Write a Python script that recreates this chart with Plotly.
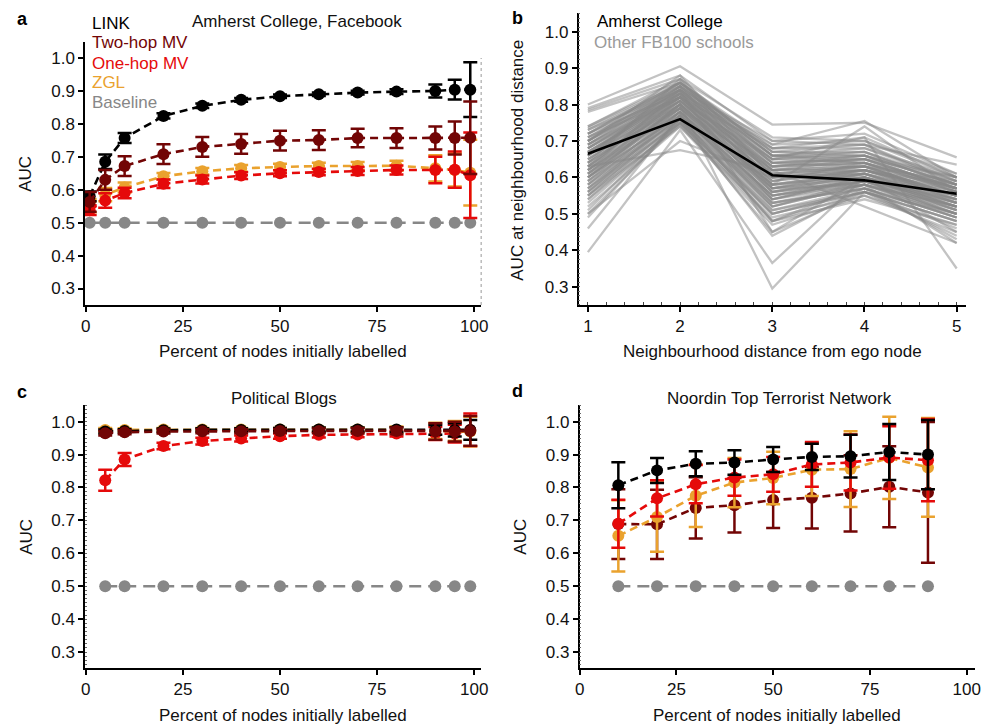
import plotly.graph_objects as go

W, H = 989, 726

# ---------------- data ----------------
# Panel a: Amherst College, Facebook
X_A = [1, 5, 10, 20, 30, 40, 50, 60, 70, 80, 90, 95, 99]
LINK_A = [0.580, 0.685, 0.757, 0.824, 0.855, 0.873, 0.884, 0.890, 0.895, 0.898, 0.900, 0.904, 0.904]
LINK_A_ERR = [0.015, 0.022, 0.015, 0.008, 0.007, 0.006, 0.005, 0.005, 0.006, 0.007, 0.020, 0.030, 0.083]
TWO_A = [0.563, 0.630, 0.672, 0.708, 0.730, 0.739, 0.749, 0.751, 0.757, 0.757, 0.757, 0.757, 0.758]
TWO_A_ERR = [0.030, 0.030, 0.030, 0.030, 0.030, 0.030, 0.030, 0.030, 0.028, 0.030, 0.035, 0.050, 0.110]
ONE_A = [0.538, 0.567, 0.590, 0.618, 0.631, 0.643, 0.650, 0.654, 0.657, 0.660, 0.660, 0.661, 0.644]
ONE_A_ERR = [0.015, 0.022, 0.016, 0.013, 0.012, 0.010, 0.009, 0.010, 0.012, 0.014, 0.040, 0.055, 0.130]
ZGL_A = [0.552, 0.585, 0.607, 0.641, 0.656, 0.665, 0.669, 0.672, 0.672, 0.673, 0.665, 0.660, 0.652]
ZGL_A_ERR = [0.020, 0.020, 0.015, 0.010, 0.010, 0.010, 0.010, 0.010, 0.012, 0.015, 0.040, 0.050, 0.100]
BASE_A = [0.5] * 13

# Panel b: AUC at neighbourhood distance
DIST_B = [1, 2, 3, 4, 5]
AMHERST_B = [0.665, 0.760, 0.606, 0.592, 0.555]
OTHER_B = [
    [0.80, 0.905, 0.745, 0.75, 0.655], [0.79, 0.88, 0.70, 0.69, 0.635],
    [0.785, 0.87, 0.71, 0.70, 0.61], [0.78, 0.86, 0.69, 0.755, 0.60],
    [0.74, 0.86, 0.68, 0.71, 0.60], [0.735, 0.855, 0.67, 0.69, 0.59],
    [0.73, 0.85, 0.66, 0.68, 0.60], [0.72, 0.85, 0.66, 0.66, 0.58],
    [0.71, 0.845, 0.65, 0.67, 0.59], [0.70, 0.84, 0.64, 0.65, 0.57],
    [0.70, 0.835, 0.63, 0.66, 0.58], [0.69, 0.83, 0.65, 0.64, 0.56],
    [0.68, 0.83, 0.62, 0.64, 0.57], [0.68, 0.825, 0.61, 0.63, 0.55],
    [0.67, 0.82, 0.60, 0.62, 0.56], [0.66, 0.82, 0.62, 0.63, 0.55],
    [0.66, 0.81, 0.59, 0.62, 0.54], [0.65, 0.81, 0.60, 0.61, 0.55],
    [0.64, 0.80, 0.58, 0.61, 0.53], [0.64, 0.80, 0.57, 0.60, 0.54],
    [0.63, 0.79, 0.58, 0.60, 0.52], [0.62, 0.79, 0.56, 0.59, 0.53],
    [0.62, 0.78, 0.55, 0.60, 0.51], [0.61, 0.78, 0.57, 0.58, 0.52],
    [0.60, 0.77, 0.54, 0.59, 0.50], [0.60, 0.77, 0.55, 0.58, 0.51],
    [0.59, 0.76, 0.53, 0.57, 0.49], [0.58, 0.76, 0.52, 0.58, 0.50],
    [0.57, 0.75, 0.51, 0.56, 0.48], [0.56, 0.75, 0.50, 0.57, 0.49],
    [0.55, 0.74, 0.49, 0.55, 0.47], [0.54, 0.745, 0.48, 0.56, 0.46],
    [0.52, 0.74, 0.47, 0.55, 0.45], [0.50, 0.75, 0.45, 0.56, 0.44],
    [0.49, 0.76, 0.44, 0.57, 0.43], [0.46, 0.77, 0.48, 0.58, 0.42],
    [0.395, 0.73, 0.365, 0.60, 0.45], [0.60, 0.80, 0.295, 0.56, 0.50],
    [0.63, 0.675, 0.62, 0.52, 0.42], [0.50, 0.70, 0.60, 0.62, 0.55],
    [0.73, 0.84, 0.70, 0.72, 0.61], [0.72, 0.83, 0.69, 0.70, 0.60],
    [0.71, 0.82, 0.68, 0.69, 0.58], [0.70, 0.86, 0.67, 0.67, 0.57],
    [0.69, 0.85, 0.66, 0.67, 0.58], [0.68, 0.84, 0.64, 0.66, 0.56],
    [0.67, 0.83, 0.63, 0.65, 0.57], [0.66, 0.80, 0.63, 0.64, 0.56],
    [0.65, 0.79, 0.62, 0.63, 0.55], [0.63, 0.82, 0.61, 0.62, 0.56],
    [0.62, 0.81, 0.60, 0.61, 0.54], [0.61, 0.80, 0.59, 0.64, 0.53],
    [0.60, 0.79, 0.58, 0.62, 0.55], [0.59, 0.80, 0.56, 0.61, 0.52],
    [0.58, 0.78, 0.55, 0.59, 0.51], [0.57, 0.77, 0.53, 0.58, 0.52],
    [0.56, 0.78, 0.52, 0.59, 0.50], [0.55, 0.76, 0.51, 0.57, 0.49],
    [0.53, 0.75, 0.50, 0.56, 0.48], [0.51, 0.76, 0.48, 0.54, 0.47],
    [0.67, 0.81, 0.65, 0.71, 0.35], [0.64, 0.87, 0.58, 0.74, 0.56],
    [0.70, 0.88, 0.60, 0.60, 0.55], [0.62, 0.84, 0.45, 0.60, 0.52],
    [0.66, 0.85, 0.57, 0.62, 0.58], [0.74, 0.87, 0.66, 0.65, 0.60],
    [0.72, 0.86, 0.64, 0.63, 0.59], [0.69, 0.84, 0.62, 0.62, 0.57],
    [0.63, 0.83, 0.56, 0.59, 0.54], [0.61, 0.82, 0.54, 0.60, 0.53],
    [0.71, 0.84, 0.66, 0.64, 0.58], [0.69, 0.82, 0.64, 0.65, 0.57],
    [0.67, 0.82, 0.62, 0.65, 0.56], [0.66, 0.83, 0.61, 0.63, 0.57],
    [0.65, 0.82, 0.59, 0.62, 0.55], [0.64, 0.81, 0.60, 0.63, 0.54],
    [0.63, 0.81, 0.58, 0.61, 0.55], [0.62, 0.80, 0.57, 0.61, 0.53],
    [0.60, 0.80, 0.57, 0.60, 0.52], [0.59, 0.78, 0.55, 0.59, 0.52],
    [0.58, 0.79, 0.54, 0.60, 0.51], [0.57, 0.78, 0.53, 0.57, 0.50],
    [0.55, 0.77, 0.52, 0.58, 0.49], [0.54, 0.76, 0.50, 0.56, 0.48],
    [0.70, 0.85, 0.68, 0.68, 0.59], [0.72, 0.86, 0.67, 0.66, 0.60],
    [0.68, 0.82, 0.63, 0.64, 0.57], [0.61, 0.79, 0.56, 0.60, 0.53],
    [0.56, 0.77, 0.54, 0.58, 0.50], [0.66, 0.84, 0.65, 0.66, 0.58],
]

# Panel c: Political Blogs
X_C = [5, 10, 20, 30, 40, 50, 60, 70, 80, 90, 95, 99]
LINK_C = [0.970, 0.972, 0.974, 0.975, 0.975, 0.976, 0.976, 0.976, 0.976, 0.975, 0.975, 0.975]
LINK_C_ERR = [0.006, 0.005, 0.005, 0.005, 0.005, 0.005, 0.006, 0.006, 0.007, 0.015, 0.020, 0.030]
TWO_C = [0.965, 0.968, 0.970, 0.971, 0.971, 0.972, 0.972, 0.972, 0.972, 0.970, 0.970, 0.972]
TWO_C_ERR = [0.007, 0.006, 0.006, 0.006, 0.006, 0.006, 0.007, 0.008, 0.010, 0.025, 0.030, 0.045]
ONE_C = [0.822, 0.885, 0.926, 0.941, 0.949, 0.956, 0.960, 0.961, 0.964, 0.964, 0.964, 0.975]
ONE_C_ERR = [0.032, 0.020, 0.010, 0.010, 0.009, 0.008, 0.008, 0.008, 0.009, 0.020, 0.027, 0.050]
ZGL_C = [0.975, 0.975, 0.976, 0.976, 0.976, 0.976, 0.976, 0.976, 0.975, 0.972, 0.972, 0.970]
ZGL_C_ERR = [0.006, 0.005, 0.005, 0.005, 0.005, 0.005, 0.006, 0.007, 0.010, 0.025, 0.030, 0.045]
BASE_C = [0.5] * 12

# Panel d: Noordin Top Terrorist Network
X_D = [10, 20, 30, 40, 50, 60, 70, 80, 90]
LINK_D = [0.807, 0.852, 0.872, 0.876, 0.885, 0.893, 0.895, 0.908, 0.900]
LINK_D_ERR = [0.070, 0.038, 0.038, 0.037, 0.038, 0.040, 0.065, 0.085, 0.105]
ONE_D = [0.690, 0.767, 0.810, 0.830, 0.840, 0.870, 0.876, 0.891, 0.883]
ONE_D_ERR = [0.073, 0.055, 0.058, 0.055, 0.053, 0.068, 0.085, 0.095, 0.125]
ZGL_D = [0.653, 0.710, 0.775, 0.815, 0.829, 0.854, 0.856, 0.890, 0.861]
ZGL_D_ERR = [0.108, 0.105, 0.095, 0.075, 0.080, 0.080, 0.115, 0.125, 0.150]
TWO_D = [0.689, 0.688, 0.738, 0.746, 0.762, 0.769, 0.782, 0.802, 0.785]
TWO_D_ERR = [0.106, 0.105, 0.093, 0.083, 0.085, 0.094, 0.116, 0.123, 0.214]
BASE_D = [0.5] * 9

Y_TICKS = [0.3, 0.4, 0.5, 0.6, 0.7, 0.8, 0.9, 1.0]
X_TICKS = [0, 25, 50, 75, 100]
B_TICKS = [1, 2, 3, 4, 5]

# ---------------- style ----------------
FONT = "Liberation Sans, Arial, sans-serif"
C_LINK = "#000000"
C_TWO = "#720505"
C_ONE = "#e50a0a"
C_ZGL = "#eaa22e"
C_BASE = "#878787"


def px_x(p):
    return p / W


def px_y(p):
    return 1 - p / H


fig = go.Figure()


def series(x, y, err, color, xa, ya, dash="8px,5px"):
    fig.add_trace(go.Scatter(
        x=x, y=y, xaxis=xa, yaxis=ya, mode="lines+markers",
        line=dict(color=color, width=2.6, dash=dash),
        marker=dict(color=color, size=12, line=dict(width=0)),
        error_y=dict(type="data", array=err, visible=True,
                     color=color, thickness=2.5, width=7) if err is not None else None,
        showlegend=False, hoverinfo="skip"))


# Panel a
series(X_A, BASE_A, None, C_BASE, "x", "y", "12px,7px")
series(X_A, ZGL_A, ZGL_A_ERR, C_ZGL, "x", "y")
series(X_A, ONE_A, ONE_A_ERR, C_ONE, "x", "y")
series(X_A, LINK_A, LINK_A_ERR, C_LINK, "x", "y")
series(X_A, TWO_A, TWO_A_ERR, C_TWO, "x", "y")

# Panel b
for row in OTHER_B:
    fig.add_trace(go.Scatter(x=DIST_B, y=row, xaxis="x2", yaxis="y2", mode="lines",
                             line=dict(color="rgba(135,135,135,0.5)", width=2.3),
                             showlegend=False, hoverinfo="skip"))
fig.add_trace(go.Scatter(x=DIST_B, y=AMHERST_B, xaxis="x2", yaxis="y2", mode="lines",
                         line=dict(color="black", width=2.6), showlegend=False,
                         hoverinfo="skip"))

# Panel c
series(X_C, BASE_C, None, C_BASE, "x3", "y3", "12px,7px")
series(X_C, ONE_C, ONE_C_ERR, C_ONE, "x3", "y3")
series(X_C, ZGL_C, ZGL_C_ERR, C_ZGL, "x3", "y3")
series(X_C, LINK_C, LINK_C_ERR, C_LINK, "x3", "y3")
series(X_C, TWO_C, TWO_C_ERR, C_TWO, "x3", "y3")

# Panel d
series(X_D, BASE_D, None, C_BASE, "x4", "y4", "12px,7px")
series(X_D, TWO_D, TWO_D_ERR, C_TWO, "x4", "y4")
series(X_D, ZGL_D, ZGL_D_ERR, C_ZGL, "x4", "y4")
series(X_D, ONE_D, ONE_D_ERR, C_ONE, "x4", "y4")
series(X_D, LINK_D, LINK_D_ERR, C_LINK, "x4", "y4")


def xaxis(domain, rng, ticks, anchor, minor=None):
    d = dict(domain=domain, range=rng, tickvals=ticks, anchor=anchor,
             showline=True, linecolor="black", linewidth=1.5, mirror=False,
             ticks="outside", ticklen=5, tickwidth=1.5, tickcolor="black",
             showgrid=False, zeroline=False,
             tickfont=dict(family=FONT, size=17, color="#111"))
    if minor:
        d["minor"] = minor
    return d


def yaxis(domain, rng, anchor, minor=None):
    d = dict(domain=domain, range=rng, tickvals=Y_TICKS, tickformat=".1f",
             anchor=anchor, showline=True, linecolor="black", linewidth=1.5,
             mirror=False, ticks="outside", ticklen=5, tickwidth=1.5,
             tickcolor="black", showgrid=False, zeroline=False,
             tickfont=dict(family=FONT, size=17, color="#111"))
    if minor:
        d["minor"] = minor
    return d


ymin = dict(ticks="inside", ticklen=2, tickwidth=1, tickcolor="#666", dtick=0.0125, showgrid=False)

XA_DOM = [px_x(81), px_x(482)]
XB_DOM = [px_x(580.7), px_x(972.7)]
XD_DOM = [px_x(581.7), px_x(981.7)]
Y_TOP_A = [px_y(305), px_y(42)]
Y_TOP_B = [px_y(305), px_y(13)]
Y_BOT = [px_y(668.3), px_y(405)]

fig.update_layout(
    width=W, height=H, margin=dict(l=0, r=0, t=0, b=0),
    paper_bgcolor="white", plot_bgcolor="white",
    font=dict(family=FONT, size=17, color="#111"),
    xaxis=xaxis(XA_DOM, [-0.2, 101.8], X_TICKS, "y"),
    yaxis=yaxis(Y_TOP_A, [0.25, 1.0487], "x"),
    xaxis2=xaxis(XB_DOM, [0.9, 5.1], B_TICKS, "y2",
                 minor=dict(ticks="inside", ticklen=3, tickwidth=1, tickcolor="#444", dtick=0.2)),
    yaxis2=yaxis(Y_TOP_B, [0.2498, 1.0513], "x2", minor=ymin),
    xaxis3=xaxis(XA_DOM, [-0.2, 101.8], X_TICKS, "y3"),
    yaxis3=yaxis(Y_BOT, [0.2505, 1.0507], "x3", minor=ymin),
    xaxis4=xaxis(XD_DOM, [0, 102.1], X_TICKS, "y4"),
    yaxis4=yaxis(Y_BOT, [0.2505, 1.0507], "x4", minor=ymin),
)

# dotted right edge of panel a
fig.add_shape(type="line", xref="paper", yref="paper",
              x0=px_x(482), x1=px_x(482), y0=px_y(305), y1=px_y(58),
              line=dict(color="#999", width=1, dash="dot"))

ann = []


def text(t, x, y, size=17, color="#111", xanchor="center", bold=False, angle=0):
    ann.append(dict(text=f"<b>{t}</b>" if bold else t, x=px_x(x), y=px_y(y),
                    xref="paper", yref="paper", showarrow=False, xanchor=xanchor,
                    yanchor="middle", textangle=angle,
                    font=dict(family=FONT, size=size, color=color)))


# panel letters
text("a", 18, 19, 18, "#000", bold=True)
text("b", 519, 18, 18, "#000", bold=True)
text("c", 17, 392, 18, "#000", bold=True)
text("d", 519, 391, 18, "#000", bold=True)

# titles
text("Amherst College, Facebook", 296, 22)
text("Political Blogs", 282, 399)
text("Noordin Top Terrorist Network", 784, 399)

# legend panel a
text("LINK", 86, 23, 17, C_LINK, "left")
text("Two-hop MV", 86, 43, 17, C_TWO, "left")
text("One-hop MV", 86, 63, 17, C_ONE, "left")
text("ZGL", 86, 83, 17, C_ZGL, "left")
text("Baseline", 86, 103, 17, C_BASE, "left")

# panel b legend
text("Amherst College", 597, 22, 17, "#000", "left")
text("Other FB100 schools", 594, 43, 17, "#9a9a9a", "left")

# axis titles
text("Percent of nodes initially labelled", 281, 351)
text("Neighbourhood distance from ego node", 777, 351)
text("Percent of nodes initially labelled", 281, 715)
text("Percent of nodes initially labelled", 781, 715)
text("AUC", 21, 174, angle=-90)
text("AUC at neighbourhood distance", 518, 160, angle=-90)
text("AUC", 21, 537, angle=-90)
text("AUC", 521, 537, angle=-90)

fig.update_layout(annotations=ann)
fig.write_html("out.html")
